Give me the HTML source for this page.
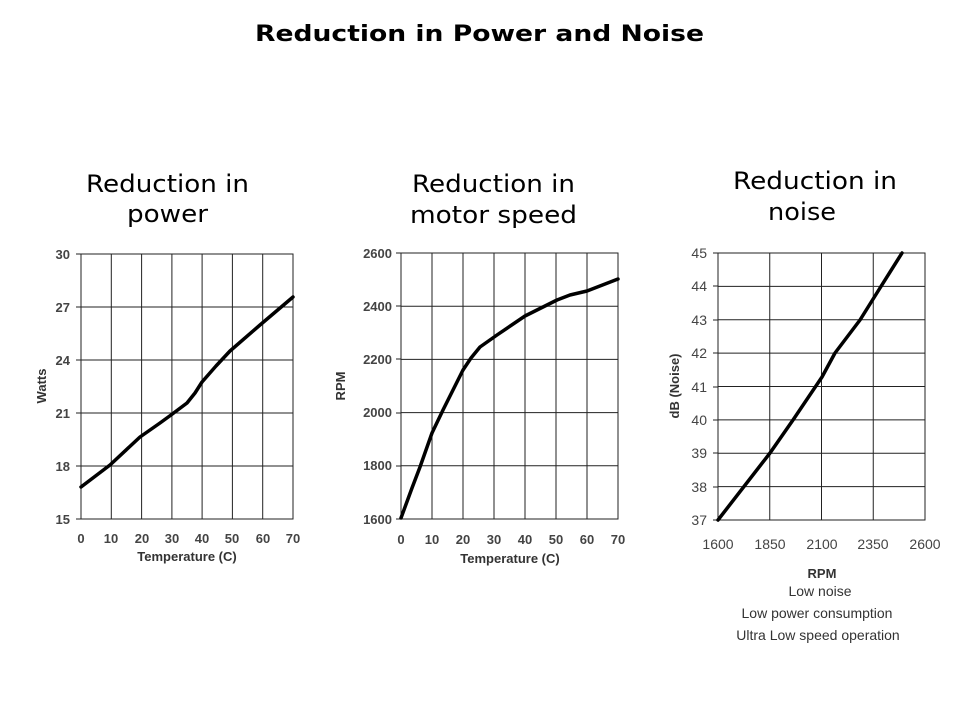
<!DOCTYPE html>
<html><head><meta charset="utf-8"><style>
html,body{margin:0;padding:0;background:#fff;}
svg{display:block;}
.t{font-family:"DejaVu Sans","Liberation Sans",sans-serif;}
.tk{font-family:"Liberation Sans",sans-serif;font-size:13px;font-weight:bold;fill:#444;}
.lb{font-family:"Liberation Sans",sans-serif;font-size:13px;font-weight:bold;fill:#333;}
.g{stroke:#222;stroke-width:1;fill:none;}
.c{stroke:#000;stroke-width:3.5;fill:none;stroke-linejoin:round;stroke-linecap:round;}
</style></head><body>
<svg width="960" height="720" viewBox="0 0 960 720" xmlns="http://www.w3.org/2000/svg">
<text class="t" x="255" y="41" font-size="22" font-weight="bold" textLength="449" lengthAdjust="spacingAndGlyphs">Reduction in Power and Noise</text>

<text class="t" x="86" y="192" font-size="24" textLength="163" lengthAdjust="spacingAndGlyphs">Reduction in</text>
<text class="t" x="127" y="222" font-size="24" textLength="81" lengthAdjust="spacingAndGlyphs">power</text>
<text class="t" x="412" y="192" font-size="24" textLength="163" lengthAdjust="spacingAndGlyphs">Reduction in</text>
<text class="t" x="410" y="223" font-size="24" textLength="167" lengthAdjust="spacingAndGlyphs">motor speed</text>
<text class="t" x="733" y="189" font-size="24" textLength="164" lengthAdjust="spacingAndGlyphs">Reduction in</text>
<text class="t" x="768" y="220" font-size="24" textLength="68" lengthAdjust="spacingAndGlyphs">noise</text>

<!-- Chart 1 -->
<g class="g">
<rect x="81" y="254" width="212" height="265"/>
<path d="M111.3 254V519M141.6 254V519M171.9 254V519M202.1 254V519M232.4 254V519M262.7 254V519"/>
<path d="M81 307H293M81 360H293M81 413H293M81 466H293"/>
<path d="M76 254H81M76 307H81M76 360H81M76 413H81M76 466H81M76 519H81"/>
</g>
<g class="tk" text-anchor="end">
<text x="70" y="259">30</text><text x="70" y="312">27</text><text x="70" y="365">24</text><text x="70" y="418">21</text><text x="70" y="471">18</text><text x="70" y="524">15</text>
</g>
<g class="tk" text-anchor="middle">
<text x="81" y="543">0</text><text x="111" y="543">10</text><text x="142" y="543">20</text><text x="172" y="543">30</text><text x="202" y="543">40</text><text x="232" y="543">50</text><text x="263" y="543">60</text><text x="293" y="543">70</text>
</g>
<text class="lb" x="187" y="561" text-anchor="middle">Temperature (C)</text>
<text class="lb" transform="translate(46 386) rotate(-90)" text-anchor="middle">Watts</text>
<path class="c" d="M81 487L110 465L140 437L160 423L171 415L187 403L195 393L202 382L216 366L230 351L260 325L293 297"/>

<!-- Chart 2 -->
<g class="g">
<rect x="401" y="253" width="217" height="266"/>
<path d="M432 253V519M463 253V519M494 253V519M525 253V519M556 253V519M587 253V519"/>
<path d="M401 306.2H618M401 359.4H618M401 412.6H618M401 465.8H618"/>
<path d="M396 253H401M396 306H401M396 359H401M396 413H401M396 466H401M396 519H401"/>
</g>
<g class="tk" text-anchor="end">
<text x="392" y="258">2600</text><text x="392" y="311">2400</text><text x="392" y="364">2200</text><text x="392" y="417">2000</text><text x="392" y="470">1800</text><text x="392" y="524">1600</text>
</g>
<g class="tk" text-anchor="middle">
<text x="401" y="544">0</text><text x="432" y="544">10</text><text x="463" y="544">20</text><text x="494" y="544">30</text><text x="525" y="544">40</text><text x="556" y="544">50</text><text x="587" y="544">60</text><text x="618" y="544">70</text>
</g>
<text class="lb" x="510" y="563" text-anchor="middle">Temperature (C)</text>
<text class="lb" transform="translate(345 386) rotate(-90)" text-anchor="middle">RPM</text>
<path class="c" d="M401 518L412 488L420 467L432 433L443 410L463 370L471 358L480 347L497 335L525 316L557 300L570 295L587 291L618 279"/>

<!-- Chart 3 -->
<g class="g">
<rect x="718" y="253" width="207" height="267"/>
<path d="M769.75 253V520M821.5 253V520M873.25 253V520"/>
<path d="M718 286.4H925M718 319.8H925M718 353.1H925M718 386.5H925M718 419.9H925M718 453.3H925M718 486.6H925"/>
<path d="M713 253H718M713 286H718M713 320H718M713 353H718M713 387H718M713 420H718M713 453H718M713 487H718M713 520H718"/>
</g>
<g class="tk" text-anchor="end" style="font-weight:normal;font-size:14px">
<text x="707" y="258">45</text><text x="707" y="291">44</text><text x="707" y="325">43</text><text x="707" y="358">42</text><text x="707" y="392">41</text><text x="707" y="425">40</text><text x="707" y="458">39</text><text x="707" y="492">38</text><text x="707" y="525">37</text>
</g>
<g class="tk" text-anchor="middle" style="font-weight:normal;font-size:14px">
<text x="718" y="549">1600</text><text x="770" y="549">1850</text><text x="822" y="549">2100</text><text x="873" y="549">2350</text><text x="925" y="549">2600</text>
</g>
<text class="lb" transform="translate(679 386) rotate(-90)" text-anchor="middle">dB (Noise)</text>
<text class="lb" x="822" y="578" text-anchor="middle">RPM</text>
<g class="tk" text-anchor="middle" style="font-weight:normal;font-size:14px;fill:#333">
<text x="820" y="596">Low noise</text>
<text x="817" y="618">Low power consumption</text>
<text x="818" y="640">Ultra Low speed operation</text>
</g>
<path class="c" d="M718 520L770 453L793 420L822 377L835 353L860 320L880 288L902 253"/>
</svg>
</body></html>
